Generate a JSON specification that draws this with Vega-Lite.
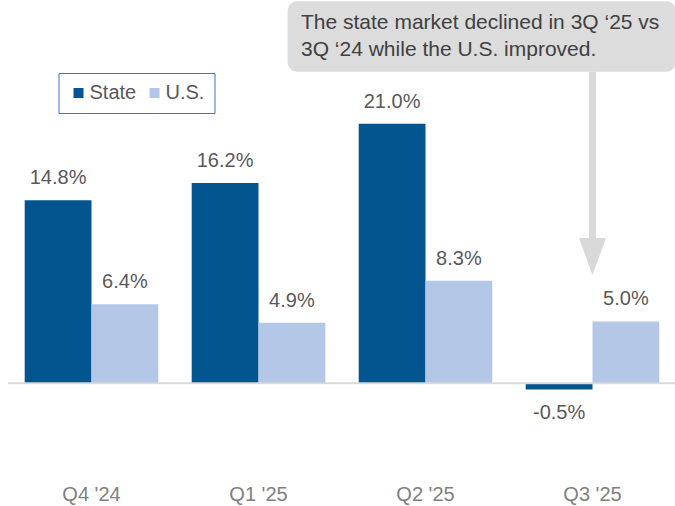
{
  "$schema": "https://vega.github.io/schema/vega-lite/v6.json",
  "width": 668,
  "height": 476,
  "autosize": "none",
  "padding": {"left": 8, "top": 0, "right": 0, "bottom": 30},
  "background": "white",
  "config": {
    "view": {"stroke": null},
    "font": "Liberation Sans",
    "locale": {
      "number": {"decimal": ".", "thousands": ",", "grouping": [3], "currency": ["$", ""], "minus": "-"}
    }
  },
  "resolve": {"scale": {"x": "independent"}},
  "layer": [
    {
      "data": {
        "values": [
          {"quarter": "Q4 '24", "series": "State", "value": 0.148},
          {"quarter": "Q4 '24", "series": "U.S.", "value": 0.064},
          {"quarter": "Q1 '25", "series": "State", "value": 0.162},
          {"quarter": "Q1 '25", "series": "U.S.", "value": 0.049},
          {"quarter": "Q2 '25", "series": "State", "value": 0.210},
          {"quarter": "Q2 '25", "series": "U.S.", "value": 0.083},
          {"quarter": "Q3 '25", "series": "State", "value": -0.005},
          {"quarter": "Q3 '25", "series": "U.S.", "value": 0.050}
        ]
      },
      "encoding": {
        "x": {
          "field": "quarter",
          "type": "nominal",
          "sort": ["Q4 '24", "Q1 '25", "Q2 '25", "Q3 '25"],
          "scale": {"paddingInner": 0.2, "paddingOuter": 0.1},
          "axis": {
            "title": null,
            "domain": false,
            "ticks": false,
            "labelAngle": 0,
            "labelFontSize": 20,
            "labelColor": "#7f7f7f",
            "labelPadding": 8,
            "labelFont": "Liberation Sans"
          }
        },
        "y": {
          "type": "quantitative",
          "scale": {"domain": [-0.075, 0.31], "nice": false, "zero": false},
          "axis": null
        }
      },
      "layer": [
        {
          "mark": {"type": "bar"},
          "encoding": {
            "y": {"field": "value", "type": "quantitative"},
            "y2": {"datum": 0},
            "xOffset": {"field": "series", "type": "nominal", "sort": ["State", "U.S."]},
            "color": {
              "field": "series",
              "type": "nominal",
              "sort": ["State", "U.S."],
              "scale": {"domain": ["State", "U.S."], "range": ["#02558f", "#b4c7e7"]},
              "legend": {
                "title": null,
                "orient": "none",
                "legendX": 50.5,
                "legendY": 73,
                "direction": "horizontal",
                "symbolType": "square",
                "symbolSize": 100,
                "symbolStrokeWidth": 0,
                "labelFontSize": 20,
                "labelColor": "#595959",
                "labelFont": "Liberation Sans",
                "labelOffset": 1,
                "columnPadding": 8,
                "padding": 10,
                "strokeColor": "#4472c4",
                "symbolOffset": 0
              }
            }
          }
        },
        {
          "transform": [{"filter": "datum.value >= 0"}],
          "mark": {"type": "text", "fontSize": 20, "color": "#595959", "dy": -16, "baseline": "alphabetic"},
          "encoding": {
            "y": {"field": "value", "type": "quantitative"},
            "xOffset": {"field": "series", "type": "nominal", "sort": ["State", "U.S."]},
            "text": {"field": "value", "type": "quantitative", "format": ".1%"}
          }
        },
        {
          "transform": [{"filter": "datum.value < 0"}],
          "mark": {"type": "text", "fontSize": 20, "color": "#595959", "dy": 30, "baseline": "alphabetic"},
          "encoding": {
            "y": {"field": "value", "type": "quantitative"},
            "xOffset": {"field": "series", "type": "nominal", "sort": ["State", "U.S."]},
            "text": {"field": "value", "type": "quantitative", "format": ".1%"}
          }
        },
        {
          "data": {"values": [{}]},
          "mark": {"type": "rule", "color": "#d9d9d9", "strokeWidth": 2},
          "encoding": {"x": null, "y": {"datum": 0}}
        },
        {
          "data": {"values": [{}]},
          "mark": {"type": "rule", "color": "#d9d9d9", "strokeWidth": 7},
          "encoding": {"x": {"datum": "Q3 '25"}, "y": {"datum": 0.252}, "y2": {"datum": 0.117}}
        },
        {
          "data": {"values": [{}]},
          "mark": {"type": "point", "filled": true, "opacity": 1, "color": "#d9d9d9", "shape": "M-0.73,-1L0.73,-1L0,1Z", "size": 1369, "strokeWidth": 0},
          "encoding": {"x": {"datum": "Q3 '25"}, "y": {"datum": 0.1025}}
        }
      ]
    },
    {
      "data": {
        "values": [
          {"x0": 1.674, "x1": 4.0, "y0": 0.252, "y1": 0.309, "tx": 1.7545, "ty": 0.2913, "note": ["The state market declined in 3Q ‘25 vs", "3Q ‘24 while the U.S. improved."]}
        ]
      },
      "layer": [
        {
          "mark": {"type": "rect", "color": "#dcdcdc", "cornerRadius": 10},
          "encoding": {
            "x": {"field": "x0", "type": "quantitative", "scale": {"domain": [0, 4], "nice": false, "zero": false}, "axis": null},
            "x2": {"field": "x1"},
            "y": {"field": "y0", "type": "quantitative"},
            "y2": {"field": "y1"}
          }
        },
        {
          "mark": {"type": "text", "align": "left", "baseline": "middle", "fontSize": 21, "lineHeight": 27, "color": "#404040"},
          "encoding": {
            "x": {"field": "tx", "type": "quantitative", "scale": {"domain": [0, 4], "nice": false, "zero": false}, "axis": null},
            "y": {"field": "ty", "type": "quantitative"},
            "text": {"field": "note"}
          }
        }
      ]
    }
  ]
}
